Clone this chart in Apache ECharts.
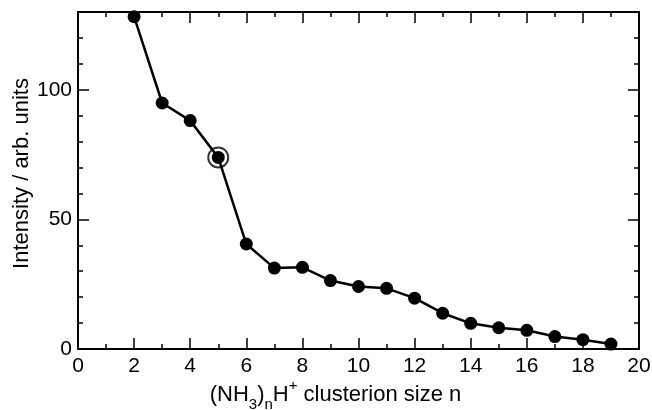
<!DOCTYPE html>
<html><head><meta charset="utf-8">
<script src="https://cdn.jsdelivr.net/npm/echarts@6/dist/echarts.min.js"></script>
<style>html,body{margin:0;padding:0;background:#fff}#c{width:652px;height:410px}</style>
</head><body><div id="c"></div>
<script>
const clusterSize = [2,3,4,5,6,7,8,9,10,11,12,13,14,15,16,17,18,19];
const intensity = [128.2,94.9,88.1,73.9,40.5,31.2,31.5,26.4,24.1,23.4,19.6,13.8,9.9,8.2,7.2,4.8,3.6,1.9];
const highlighted = [[5,73.9]];
const xTicks = [0,2,4,6,8,10,12,14,16,18,20];
const yTicks = [0,50,100];

const font = 'Liberation Sans, Arial, Helvetica, sans-serif';
const lineStyle = {color:'#000', width:2};
const chart = echarts.init(document.getElementById('c'));
const baseX = {type:'value', min:0, max:20, interval:2,
  axisLine:{show:true, onZero:false, lineStyle},
  splitLine:{show:false}};
const baseY = {type:'value', min:0, max:130,
  axisLine:{show:true, onZero:false, lineStyle},
  splitLine:{show:false}};
chart.setOption({
  animation:false,
  grid:{left:78, top:12, right:13, bottom:61, containLabel:false, outerBoundsMode:'none'},
  xAxis:[
    Object.assign({}, baseX, {position:'bottom',
      name:'{m|(NH}{s|3}{m|)}{s|n}{m|H}{p|+}{m| clusterion size n}',
      nameLocation:'middle', nameGap:29, nameMoveOverlap:false,
      nameTextStyle:{padding:[0,46,0,0], rich:{
        m:{fontFamily:font, fontSize:22, color:'#000', lineHeight:34},
        s:{fontFamily:font, fontSize:15, color:'#000', lineHeight:14, verticalAlign:'bottom'},
        p:{fontFamily:font, fontSize:15, color:'#000', lineHeight:14, verticalAlign:'top'}
      }},
      axisTick:{show:true, inside:true, length:11, lineStyle:{color:'#000', width:1.5}},
      minorTick:{show:true, splitNumber:2, length:5, lineStyle:{color:'#000', width:1.5}},
      axisLabel:{show:true, fontFamily:font, fontSize:21, color:'#000', margin:7,
        formatter:v => xTicks.includes(v) ? String(v) : ''}
    }),
    Object.assign({}, baseX, {position:'top',
      axisTick:{show:true, inside:true, length:11, lineStyle:{color:'#000', width:1.5}},
      minorTick:{show:true, splitNumber:2, length:5, lineStyle:{color:'#000', width:1.5}},
      axisLabel:{show:false}})
  ],
  yAxis:[
    Object.assign({}, baseY, {position:'left', interval:50,
      name:'Intensity / arb. units', nameLocation:'middle', nameGap:45, nameMoveOverlap:false,
      nameTextStyle:{fontFamily:font, fontSize:22, color:'#000', padding:[0,0,0,14]},
      axisTick:{show:true, inside:true, length:11, lineStyle:{color:'#000', width:1.5}},
      axisLabel:{show:true, fontFamily:font, fontSize:21, color:'#000', margin:6, showMaxLabel:false,
        formatter:v => yTicks.includes(v) ? String(v) : ''}
    }),
    Object.assign({}, baseY, {position:'left', interval:10,
      axisTick:{show:true, inside:true, length:5, lineStyle:{color:'#000', width:1.5}},
      axisLabel:{show:false}}),
    Object.assign({}, baseY, {position:'right', interval:50,
      axisTick:{show:true, inside:true, length:11, lineStyle:{color:'#000', width:1.5}},
      axisLabel:{show:false}}),
    Object.assign({}, baseY, {position:'right', interval:10,
      axisTick:{show:true, inside:true, length:5, lineStyle:{color:'#000', width:1.5}},
      axisLabel:{show:false}})
  ],
  series:[
    {type:'line', xAxisIndex:0, yAxisIndex:0,
      data: clusterSize.map((n,i)=>[n,intensity[i]]),
      symbol:'circle', symbolSize:13,
      lineStyle:{color:'#000', width:2.5},
      itemStyle:{color:'#000'}},
    {type:'scatter', xAxisIndex:0, yAxisIndex:0, data: highlighted,
      symbol:'circle', symbolSize:20, z:1,
      itemStyle:{color:'#fff', borderColor:'#000', borderWidth:2}}
  ]
});
</script></body></html>
